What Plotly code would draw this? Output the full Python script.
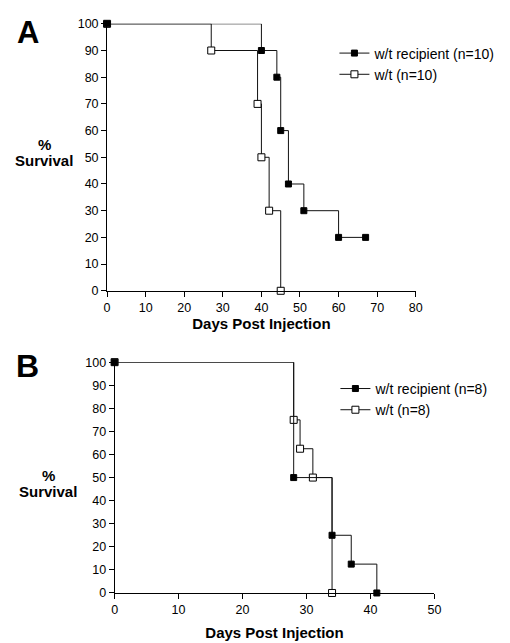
import plotly.graph_objects as go

# ---- Panel A data ----
a_recip_days = [0, 40, 44, 45, 47, 51, 60, 67]
a_recip_surv = [100, 90, 80, 60, 40, 30, 20, 20]
a_wt_days = [0, 27, 39, 40, 42, 45]
a_wt_surv = [100, 90, 70, 50, 30, 0]

# ---- Panel B data ----
b_recip_days = [0, 28, 34, 37, 41]
b_recip_surv = [100, 50, 25, 12.5, 0]
b_wt_days = [0, 28, 29, 31, 34]
b_wt_surv = [100, 75, 62.5, 50, 0]

a_x_ticks = [0, 10, 20, 30, 40, 50, 60, 70, 80]
b_x_ticks = [0, 10, 20, 30, 40, 50]
y_ticks = [0, 10, 20, 30, 40, 50, 60, 70, 80, 90, 100]

FONT = "Liberation Sans, Arial, Helvetica, sans-serif"
OFF = 8  # page body margin
W, H = 510 - OFF, 643 - OFF

fig = go.Figure()

def add_series(x, y, name, filled, xa, ya, legend):
    fig.add_trace(go.Scatter(
        x=x, y=y, name=name, mode="lines+markers",
        line=dict(shape="hv", color="#111111", width=1),
        marker=dict(symbol="square", size=6 if filled else 7,
                    color="black" if filled else "white",
                    line=dict(color="black", width=1)),
        xaxis=xa, yaxis=ya, legend=legend, cliponaxis=False,
    ))

# open first so filled markers lie on top
add_series(a_wt_days, a_wt_surv, "w/t (n=10)", False, "x", "y", "legend")
add_series(a_recip_days, a_recip_surv, "w/t recipient (n=10)", True, "x", "y", "legend")
add_series(b_wt_days, b_wt_surv, "w/t (n=8)", False, "x2", "y2", "legend2")
add_series(b_recip_days, b_recip_surv, "w/t recipient (n=8)", True, "x2", "y2", "legend2")

def px_x(p):
    return (p - OFF) / W

def px_y(p):
    return 1 - (p - OFF) / H

axis_common = dict(showgrid=False, zeroline=False, showline=True, linecolor="black",
                   linewidth=1, ticks="outside", ticklen=5, tickwidth=1, tickcolor="black",
                   tickfont=dict(family=FONT, size=12.5, color="black"), mirror=False)

fig.update_layout(
    width=W, height=H, margin=dict(l=0, r=0, t=0, b=0),
    paper_bgcolor="white", plot_bgcolor="white",
    font=dict(family=FONT, color="black"),
    xaxis=dict(domain=[px_x(106), px_x(421)], range=[0, 80], tickvals=a_x_ticks,
               anchor="y",
               title=dict(text="<b>Days Post Injection</b>", font=dict(size=15), standoff=3),
               **axis_common),
    yaxis=dict(domain=[px_y(290), px_y(17)], range=[0, 100], tickvals=y_ticks,
               anchor="x", **axis_common),
    xaxis2=dict(domain=[px_x(113.7), px_x(440)], range=[0, 50], tickvals=b_x_ticks,
                anchor="y2",
                title=dict(text="<b>Days Post Injection</b>", font=dict(size=15), standoff=11),
                **axis_common),
    yaxis2=dict(domain=[px_y(599), px_y(363)], range=[0, 100], tickvals=y_ticks,
                anchor="x2", **axis_common),
    legend=dict(x=px_x(338), y=px_y(31), xanchor="left", yanchor="top",
                traceorder="reversed", bgcolor="rgba(0,0,0,0)",
                font=dict(family=FONT, size=14, color="black"), itemwidth=30),
    legend2=dict(x=px_x(339), y=px_y(374), xanchor="left", yanchor="top",
                 traceorder="reversed", bgcolor="rgba(0,0,0,0)",
                 font=dict(family=FONT, size=14, color="black"), itemwidth=30),
    showlegend=True,
)

annos = [
    dict(text="<b>A</b>", x=25, y=26, size=31),
    dict(text="<b>B</b>", x=25, y=367, size=32),
    dict(text="<b>%</b>", x=42, y=140, size=15),
    dict(text="<b>Survival</b>", x=42, y=157, size=15),
    dict(text="<b>%</b>", x=46, y=479, size=15),
    dict(text="<b>Survival</b>", x=46, y=495, size=15),
]
for a in annos:
    fig.add_annotation(text=a["text"], x=px_x(a["x"]), y=px_y(a["y"]), xref="paper", yref="paper",
                       xanchor="center", yanchor="middle", showarrow=False,
                       font=dict(family=FONT, size=a["size"], color="black"))

fig.write_html("out.html")
